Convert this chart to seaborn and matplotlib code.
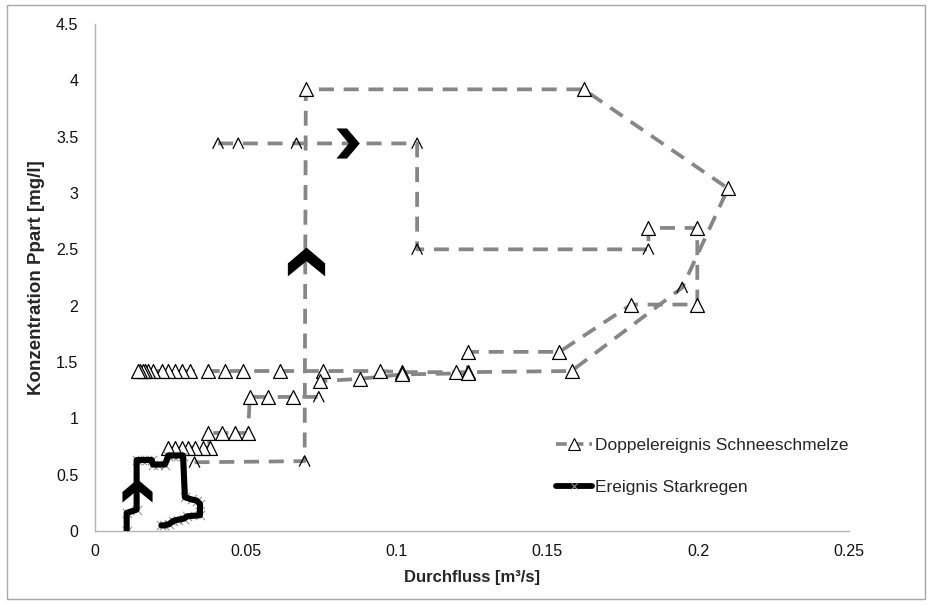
import numpy as np
import pandas as pd
import matplotlib
matplotlib.use("Agg")
import matplotlib.pyplot as plt
from matplotlib.path import Path
from matplotlib.lines import Line2D
from matplotlib.patches import Rectangle
import seaborn as sns

# ---------------- data ----------------
# Doppelereignis Schneeschmelze, event 1
e1_x = [0.0330, 0.0695, 0.0699, 0.1620, 0.2099, 0.1947, 0.1580, 0.1236, 0.1198,
        0.1019, 0.0944, 0.0756, 0.0613, 0.0490, 0.0430, 0.0374, 0.0315, 0.0288,
        0.0265, 0.0242, 0.0222, 0.0192, 0.0175, 0.0165, 0.0158, 0.0150, 0.0142]
e1_y = [0.61, 0.62, 3.92, 3.92, 3.04, 2.16, 1.42, 1.41, 1.41,
        1.41, 1.42, 1.42, 1.42, 1.42, 1.42, 1.42, 1.42, 1.42,
        1.42, 1.42, 1.42, 1.42, 1.42, 1.42, 1.42, 1.42, 1.42]
e1_m = ["caret", "caret", "tri", "tri", "tri", "caret", "tri", "tri", "tri",
        "tri", "tri", "tri", "tri", "tri", "tri", "tri", "tri", "tri",
        "tri", "tri", "tri", "tri", "tri", "tri", "tri", "tri", "tri"]

# Doppelereignis Schneeschmelze, event 2
e2_x = [0.0408, 0.0475, 0.0668, 0.1068, 0.1068, 0.1835, 0.1835, 0.1997, 0.1997,
        0.1778, 0.1540, 0.1236, 0.1236, 0.1019, 0.0877, 0.0745, 0.0742, 0.0656,
        0.0573, 0.0513, 0.0508, 0.0464, 0.0420, 0.0375, 0.0381, 0.0359, 0.0331,
        0.0309, 0.0287, 0.0265, 0.0243]
e2_y = [3.44, 3.44, 3.44, 3.44, 2.50, 2.50, 2.69, 2.69, 2.01,
        2.01, 1.59, 1.59, 1.40, 1.39, 1.35, 1.33, 1.19, 1.19,
        1.19, 1.19, 0.87, 0.87, 0.87, 0.87, 0.74, 0.74, 0.74,
        0.74, 0.74, 0.74, 0.74]
e2_m = ["caret", "caret", "caret", "caret", "caret", "caret", "tri", "tri", "tri",
        "tri", "tri", "tri", "tri", "tri", "tri", "tri", "caret", "tri",
        "tri", "tri", "tri", "tri", "tri", "tri", "tri", "tri", "tri",
        "tri", "tri", "tri", "tri"]

# Ereignis Starkregen
s_x = [0.0105, 0.0105, 0.0138, 0.0138, 0.0155, 0.0172, 0.0188, 0.0192, 0.0210,
       0.0232, 0.0243, 0.0260, 0.0276, 0.0292, 0.0298, 0.0320, 0.0337, 0.0348,
       0.0348, 0.0305, 0.0295, 0.0275, 0.0260, 0.0245, 0.0230, 0.0220]
s_y = [0.00, 0.16, 0.19, 0.63, 0.63, 0.63, 0.63, 0.59, 0.59,
       0.59, 0.67, 0.67, 0.67, 0.67, 0.30, 0.28, 0.27, 0.24,
       0.14, 0.13, 0.11, 0.10, 0.09, 0.06, 0.05, 0.05]

# direction arrows (x, y, direction)
arr_x = [0.0138, 0.0699, 0.0838]
arr_y = [0.36, 2.40, 3.44]
arr_d = ["up", "up", "right"]
arr_s = [470, 720, 470]

x_ticks = [0, 0.05, 0.1, 0.15, 0.2, 0.25]
x_ticklabels = ["0", "0.05", "0.1", "0.15", "0.2", "0.25"]
y_ticks = [0, 0.5, 1, 1.5, 2, 2.5, 3, 3.5, 4, 4.5]
y_ticklabels = ["0", "0.5", "1", "1.5", "2", "2.5", "3", "3.5", "4", "4.5"]

label_snow = "Doppelereignis Schneeschmelze"
label_rain = "Ereignis Starkregen"
xlabel = "Durchfluss [m³/s]"
ylabel = "Konzentration Ppart [mg/l]"

# ---------------- style ----------------
sns.set_style("white")
plt.rcParams["font.family"] = ["Liberation Sans", "DejaVu Sans"]

W, H = 931, 605
fig = plt.figure(figsize=(W / 100, H / 100), dpi=100)
ax = fig.add_axes([95 / W, 1 - 531 / H, (849 - 95) / W, (531 - 24) / H])

gray = "#868686"
caret = Path([(-1, -1), (0, 1), (1, -1)], [Path.MOVETO, Path.LINETO, Path.LINETO])
up_chev = [(0, 0.75), (1, -0.1), (1, -0.8), (0, 0.02), (-1, -0.8), (-1, -0.1)]
right_chev = [(y, -x) for x, y in up_chev]

dash = (0, (4.0, 2.6))

for ex, ey, em in [(e1_x, e1_y, e1_m), (e2_x, e2_y, e2_m)]:
    df = pd.DataFrame({"x": ex, "y": ey, "m": em})
    sns.lineplot(data=df, x="x", y="y", sort=False, estimator=None, color=gray,
                 linewidth=2.7, linestyle=dash, ax=ax, zorder=2)
    tri = df[df["m"] == "tri"]
    car = df[df["m"] == "caret"]
    sns.scatterplot(data=tri, x="x", y="y", marker="^", s=100, facecolor="white",
                    edgecolor="black", linewidth=0.9, ax=ax, zorder=3)
    sns.scatterplot(data=car, x="x", y="y", marker=caret, s=60, facecolor="none",
                    edgecolor="black", linewidth=0.9, ax=ax, zorder=3)

dfs = pd.DataFrame({"x": s_x, "y": s_y})
sns.scatterplot(data=dfs, x="x", y="y", marker="x", s=45, color="#8c8c8c",
                linewidth=0.7, ax=ax, zorder=4)
sns.lineplot(data=dfs, x="x", y="y", sort=False, estimator=None, color="black",
             linewidth=4.4, ax=ax, zorder=5)

dfa = pd.DataFrame({"x": arr_x, "y": arr_y, "d": arr_d, "s": arr_s})
for _, r in dfa.iterrows():
    mk = up_chev if r["d"] == "up" else right_chev
    sns.scatterplot(x=[r["x"]], y=[r["y"]], marker=mk, s=r["s"], color="black",
                    linewidth=0, ax=ax, zorder=6)

ax.set_xlim(0, 0.25)
ax.set_ylim(0, 4.5)
ax.set_xticks(x_ticks)
ax.set_xticklabels(x_ticklabels)
ax.set_yticks(y_ticks)
ax.set_yticklabels(y_ticklabels)
ax.set_xlabel(xlabel, fontsize=12, fontweight="bold", labelpad=8)
ax.set_ylabel(ylabel, fontsize=13.5, fontweight="bold", labelpad=8)

for sp in ["top", "right"]:
    ax.spines[sp].set_visible(False)
for sp in ["left", "bottom"]:
    ax.spines[sp].set_color("#b4b4b4")
    ax.spines[sp].set_linewidth(1.0)
ax.tick_params(axis="both", which="major", direction="out", length=4,
               color="#b4b4b4", labelsize=11.5, labelcolor="#111111")
ax.tick_params(axis="y", pad=8)
ax.tick_params(axis="x", pad=5)
ax.grid(False)

h1 = Line2D([], [], color=gray, linewidth=2.6, linestyle=(0, (3.0, 1.6)),
            marker="^", markersize=8, markerfacecolor="white",
            markeredgecolor="black", markeredgewidth=0.8)
h2 = Line2D([], [], color="black", linewidth=4.2, marker="x", markersize=5,
            markeredgecolor="#a0a0a0", markeredgewidth=0.7)
ax.legend([h1, h2], [label_snow, label_rain], loc="upper left",
          bbox_to_anchor=(556 / W, 1 - 438 / H), bbox_transform=fig.transFigure,
          frameon=False, fontsize=12.5, handlelength=2.1, handletextpad=0.15,
          labelspacing=1.55, borderpad=0, borderaxespad=0)

fig.patches.append(Rectangle((7 / W, 1 - 599 / H), (925 - 7) / W, (599 - 5) / H,
                             transform=fig.transFigure, fill=False,
                             edgecolor="#a8a8a8", linewidth=1.0))

fig.savefig("out.png", dpi=100)
